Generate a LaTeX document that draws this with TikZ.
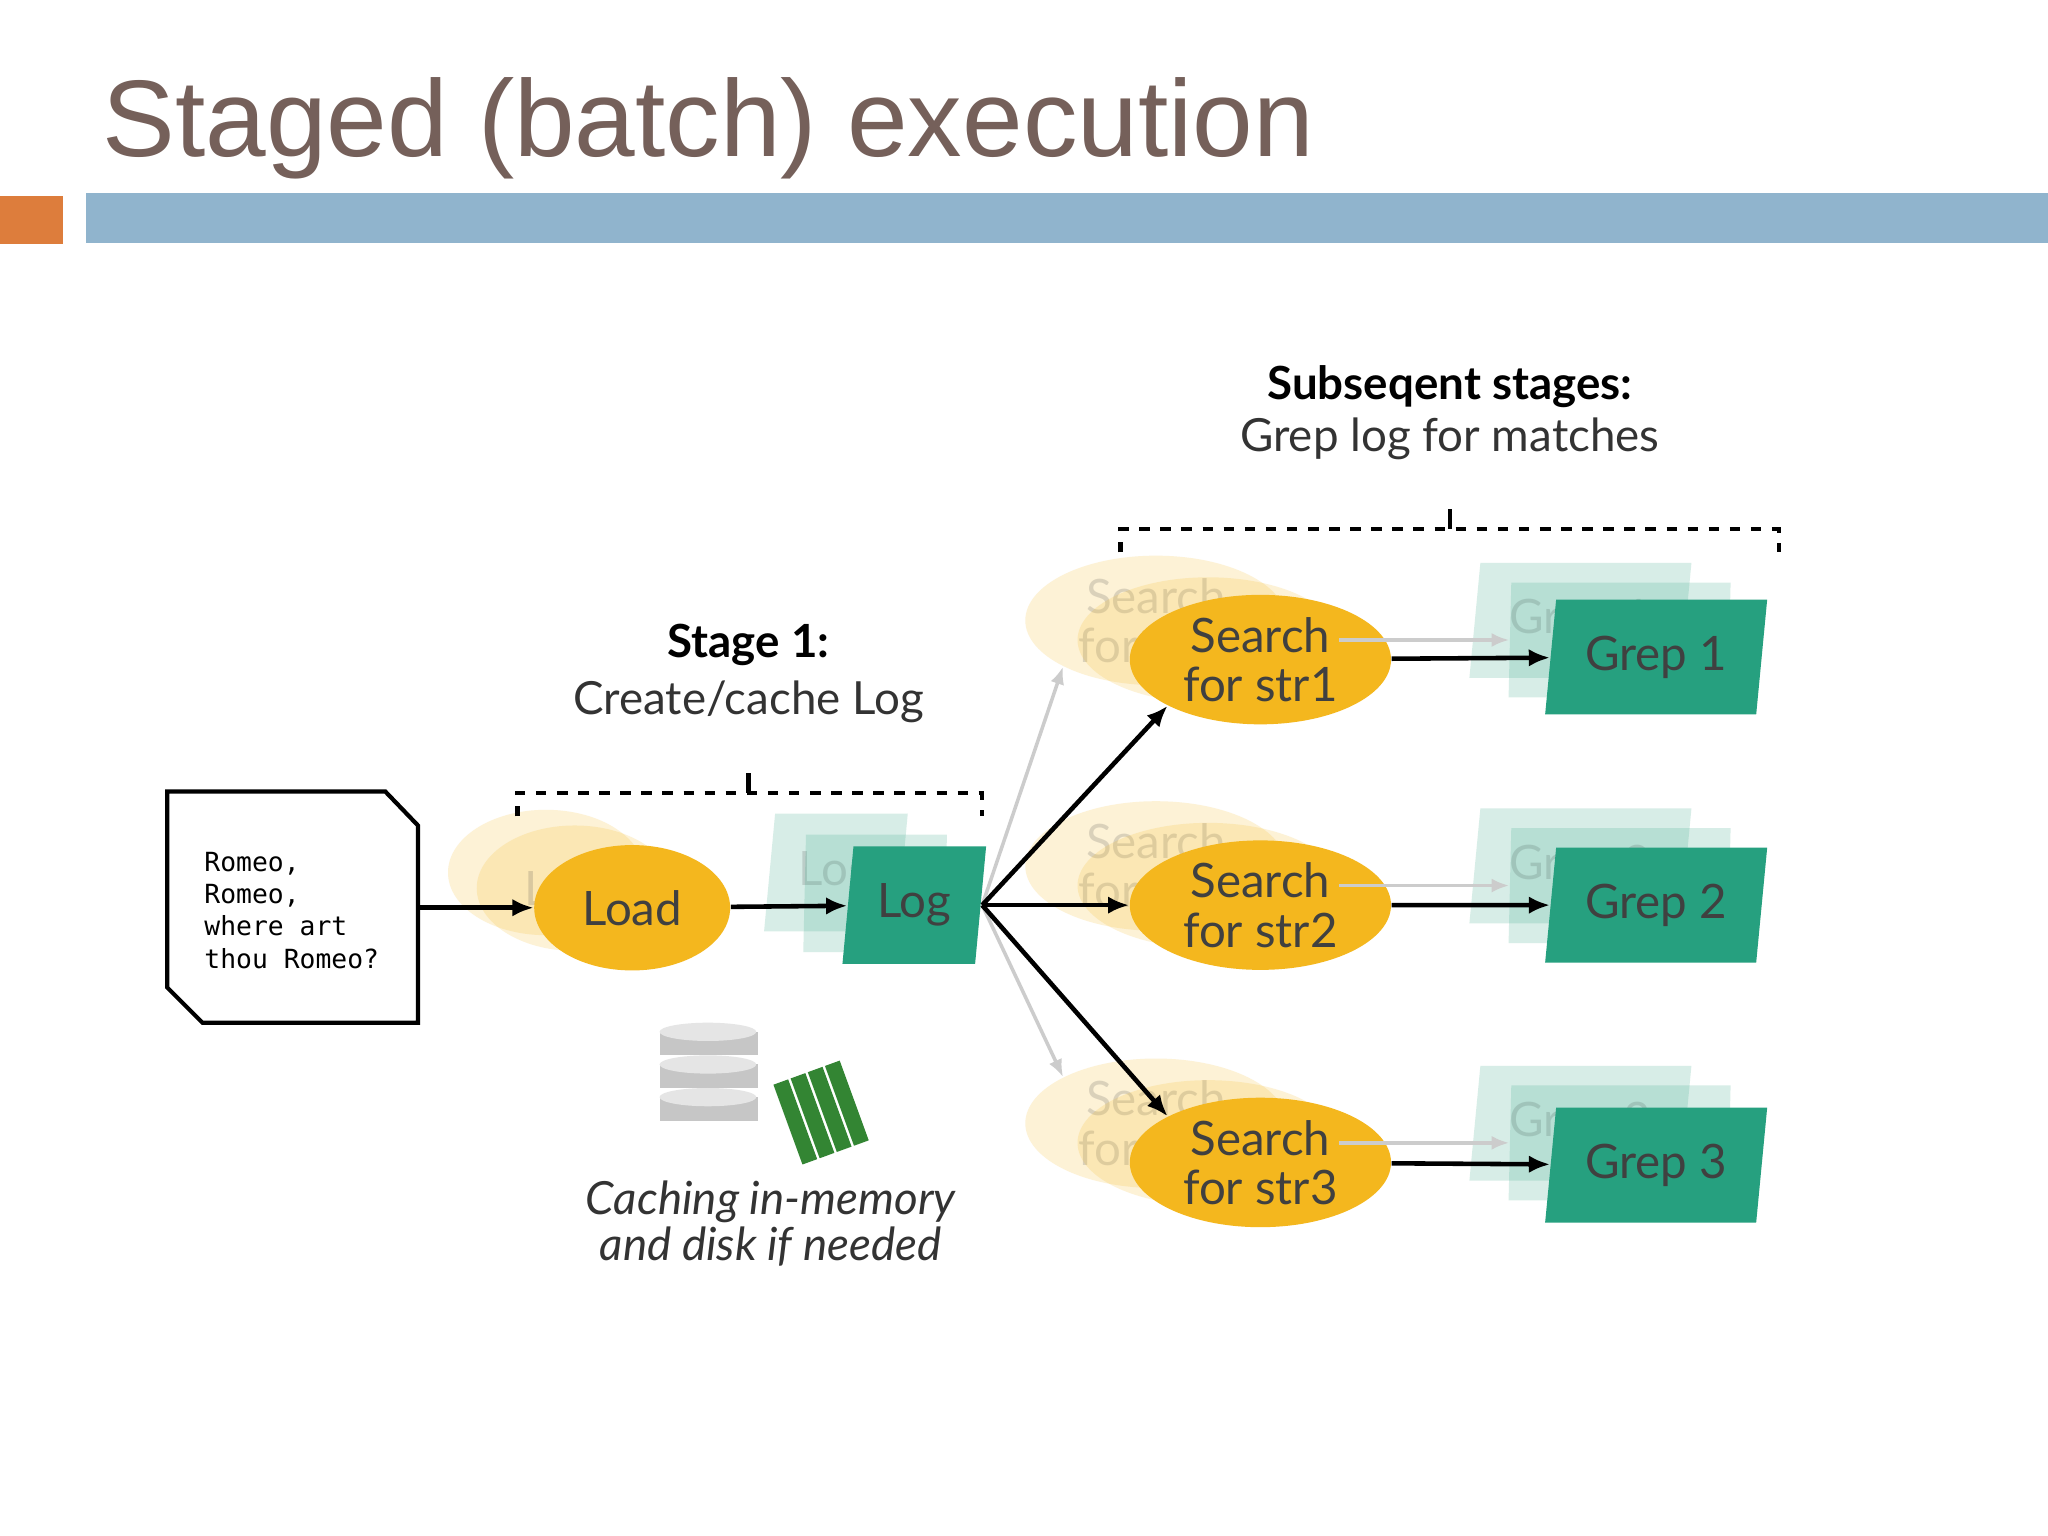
\documentclass[tikz,border=0pt]{standalone}
\usepackage{fontspec}
\setmainfont{Lato}
\newfontfamily\titlefont{Liberation Sans}
\newfontfamily\docfont{DejaVu Sans Mono}
\usetikzlibrary{shapes.geometric,arrows.meta}
\definecolor{cY}{HTML}{F4B71E}
\definecolor{cT}{HTML}{26A07F}
\definecolor{cTitle}{HTML}{75605A}
\definecolor{cBar}{HTML}{90B4CD}
\definecolor{cOr}{HTML}{DD7D3C}
\def\u{0.01306cm}
\tikzset{stage/.style={
  shape=ellipse,
  fill=cY,
  minimum width={200*\u},
  minimum height={96*\u},
  inner sep=1pt,
  align=center,
  font=\fontsize{13.5}{14}\selectfont,
  text=black!75,
  }
}
\tikzset{result/.style={
  shape=trapezium,
  trapezium left angle=79,
  trapezium right angle=101,
  trapezium stretches body,
  fill=cT,
  minimum width={170*\u},
  minimum height={88*\u},
  inner sep=2pt,
  font=\fontsize{13.5}{14}\selectfont,
  text=black!75,
  }
}
\tikzset{ghost/.style={opacity=0.18}}
\tikzset{flow/.style={-{Latex[length=6pt,width=5pt]}, line width=1.3pt}}
\tikzset{faint/.style={-{Latex[length=5pt,width=4pt]}, line width=1pt, black!20}}
\tikzset{brace/.style={dashed, line width=1.3pt}}
\begin{document}
\begin{tikzpicture}[x=0.01306cm,y=-0.01306cm]
  \useasboundingbox[fill=white] (0,0) rectangle (1568,1176);
  % title and bars
  \node[anchor=base west, inner sep=0pt, text=cTitle, font=\titlefont\fontsize{31}{31}\selectfont] (title) at (78,120) {Staged (batch) execution};
  \fill[cOr] (0,150) rectangle (48,187);
  \fill[cBar] (66,148) rectangle (1568,186);

  % input document
  \draw[line width=1.2pt] (128,606) -- (295,606) -- (320,632) -- (320,783) -- (155,783) -- (128,756) -- cycle;
  \node[anchor=west, align=left, inner sep=0pt, font=\docfont\fontsize{7.5}{9.2}\selectfont] (doc) at (156,697) {Romeo,\\Romeo,\\where art\\thou Romeo?};
  \coordinate (docout) at (320,695);

  % ghost copies
  \node[stage, ghost, minimum width={150*\u}] (gload1) at (418,668) {};
  \node[stage, ghost, minimum width={150*\u}] (gload2) at (440,680) {Load};
  \node[result, ghost, minimum width={110*\u}, minimum height={90*\u}] (glog1) at (640,668) {Log};
  \node[result, ghost, minimum width={110*\u}, minimum height={90*\u}] (glog2) at (670,684) {};
  \foreach \i/\y in {1/505,2/693,3/890}{
    \node[stage, ghost] (gsearch\i a) at (885,\y-30) {Search\\for str\i};
    \node[stage, ghost] (gsearch\i b) at (925,\y-15) {};
    \node[result, ghost] (ggrep\i a) at (1210,\y-30) {Grep \i};
    \node[result, ghost] (ggrep\i b) at (1240,\y-15) {};
  }

  % main nodes
  \node[stage, minimum width={150*\u}] (load) at (484,695) {Load};
  \node[result, minimum width={110*\u}, minimum height={90*\u}] (log) at (700,693) {Log};
  \node[stage] (search1) at (965,505) {Search\\for str1};
  \node[stage] (search2) at (965,693) {Search\\for str2};
  \node[stage] (search3) at (965,890) {Search\\for str3};
  \node[result] (grep1) at (1268,503) {Grep 1};
  \node[result] (grep2) at (1268,693) {Grep 2};
  \node[result] (grep3) at (1268,892) {Grep 3};

  % connectors
  \draw[flow] (docout) -- (load);
  \draw[flow] (load) -- (log);
  \coordinate (fork) at (752,693);
  \draw[faint] (fork) -- (gsearch1a.south west);
  \draw[faint] (fork) -- (gsearch3a.north west);
  \draw[flow] (fork) -- (search1.south west);
  \draw[flow] (fork) -- (search2.west);
  \draw[flow] (fork) -- (search3.north west);
  \foreach \i in {1,2,3}{
    \draw[faint] (gsearch\i b.east) -- (ggrep\i b.west);
    \draw[flow] (search\i) -- (grep\i);
  }

  % braces and labels
  \draw[brace] (396,625) -- (396,607) -- (752,607) -- (752,625);
  \draw[line width=1.2pt] (573,607) -- (573,592);
  \node[font=\bfseries\fontsize{13}{13}\selectfont] (stage1) at (573,494) {Stage 1:};
  \node[font=\fontsize{13}{13}\selectfont, text=black!80] (stage1b) at (573,537) {Create/cache Log};
  \draw[brace] (858,423) -- (858,405) -- (1362,405) -- (1362,423);
  \draw[line width=1.2pt] (1110,405) -- (1110,390);
  \node[font=\bfseries\fontsize{13}{13}\selectfont] (stages) at (1110,296) {Subseqent stages:};
  \node[font=\fontsize{13}{13}\selectfont, text=black!80] (stagesb) at (1110,336) {Grep log for matches};

  % storage icons
  \foreach \y in {790,815,840}{
    \fill[gray!45] (505,\y) rectangle (580,\y+18);
    \fill[gray!20] (542,\y) ellipse (37 and 7);
  }
  \foreach \k in {0,1,2,3}{
    \fill[green!40!black!80, rotate around={20:(640,845)}] (600+\k*14,815) rectangle (612+\k*14,880);
  }
  \node[font=\itshape\fontsize{13}{13}\selectfont, text=black!80, align=center] (cache) at (590,937) {Caching in-memory\\and disk if needed};
\end{tikzpicture}
\end{document}
